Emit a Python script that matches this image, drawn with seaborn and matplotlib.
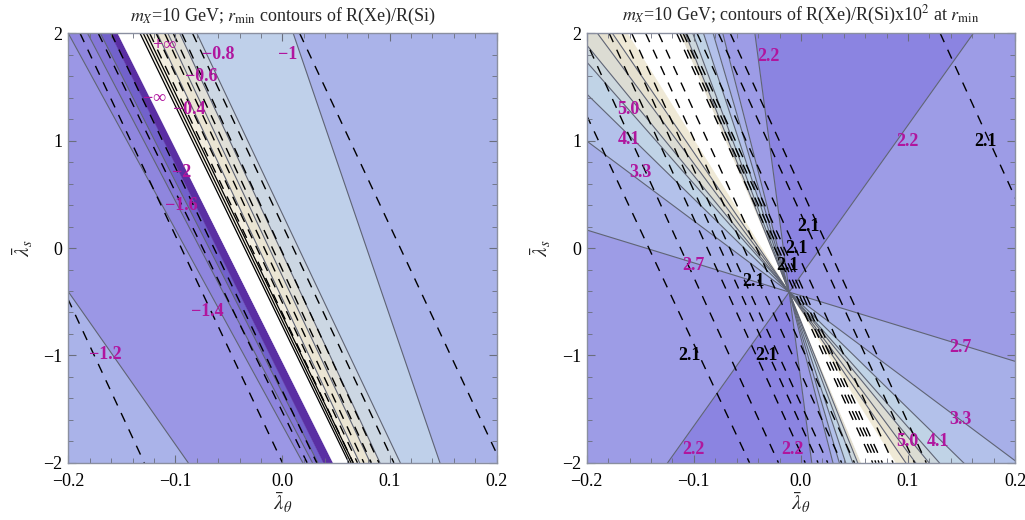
import numpy as np
import pandas as pd
import matplotlib
matplotlib.use("Agg")
import matplotlib.pyplot as plt
from matplotlib.ticker import MultipleLocator, FuncFormatter
import seaborn as sns

# ---------------------------------------------------------------
# left panel : r_min contours, straight lines given by their
# lambda_theta value at lambda_s = +2 (top) and lambda_s = -2 (bottom)
# ---------------------------------------------------------------
left_top = [-0.369, -0.200, -0.182, -0.170, -0.161, -0.154, -0.132, -0.117, -0.107, -0.096, -0.080, 0.010]
left_bot = [-0.088, 0.019, 0.028, 0.033, 0.038, 0.047, 0.063, 0.072, 0.082, 0.091, 0.110, 0.147]
left_gray = [1, 1, 1, 1, 0, 0, 0, 1, 1, 1, 1, 1]
left_fill = ["#aab3e9", "#9b97e5", "#8f86de", "#8577d8", "#7262cc", "#5a2fa3", "#ffffff",
             "#f3eee0", "#ebe5d3", "#e1e0d8", "#ccd7e3", "#bfd0ea", "#aab3e9"]
left_sing_top = [-0.133, -0.130, -0.127]
left_sing_bot = [0.062, 0.064, 0.066]
left_dash_top = [-0.316, -0.189, -0.172, -0.160, -0.124, -0.118, -0.110, -0.102, -0.094, -0.084, 0.016]
left_dash_bot = [-0.129, 0.000, 0.023, 0.032, 0.066, 0.070, 0.076, 0.083, 0.090, 0.104, 0.204]
left_labels = ["+∞", "−0.8", "−1", "−0.6", "−∞", "−0.4", "−2", "−1.6", "−1.4", "−1.2"]
left_lab_x = [-0.110, -0.060, 0.005, -0.076, -0.119, -0.087, -0.094, -0.094, -0.070, -0.165]
left_lab_y = [1.89, 1.80, 1.80, 1.60, 1.39, 1.29, 0.70, 0.40, -0.59, -0.99]

# ---------------------------------------------------------------
# right panel : contours of R(Xe)/R(Si) at r_min, lines through a common point
# ---------------------------------------------------------------
right_cx, right_cy = -0.011, -0.41
right_ray_x = [0.161, -0.043, -0.073, -0.082, -0.091, -0.101, -0.108, -0.113,
               -0.162, -0.176, -0.190, -0.200, -0.200, -0.200, -0.200, -0.200]
right_ray_y = [2.0, 2.0, 2.0, 2.0, 2.0, 2.0, 2.0, 2.0,
               2.0, 2.0, 2.0, 1.891, 1.733, 1.435, 0.997, 0.168]
right_gray = [1, 1, 1, 1, 1, 1, 1, 0, 0, 1, 1, 1, 1, 1, 1, 1]
right_fill = ["#8b84e1", "#9d9ce6", "#a7afe8", "#b3c1ea", "#c0d3e6", "#ccd7dd", "#e3dfd1", "#ffffff",
              "#efe9d6", "#e6e1d0", "#dcdcd3", "#ccd7dd", "#c0d3e6", "#b3c1ea", "#a7afe8", "#9d9ce6"]
right_dash_top = [-0.236, -0.204, -0.179, -0.167, -0.158, -0.145, -0.133, -0.116, -0.113,
                  -0.110, -0.107, -0.097, -0.077, -0.066, 0.130]
right_dash_bot = [-0.048, -0.021, 0.004, 0.016, 0.025, 0.038, 0.050, 0.067, 0.070,
                  0.073, 0.076, 0.086, 0.106, 0.117, 0.313]
right_mag = ["2.2", "2.2", "5.0", "4.1", "3.3", "2.7", "2.7", "3.3", "5.0", "4.1", "2.2", "2.2"]
right_mag_x = [-0.030, 0.099, -0.161, -0.161, -0.150, -0.100, 0.149, 0.149, 0.099, 0.128, -0.100, -0.008]
right_mag_y = [1.78, 0.99, 1.29, 1.01, 0.70, -0.16, -0.93, -1.60, -1.80, -1.80, -1.88, -1.88]
right_blk_x = [0.007, 0.172, -0.004, -0.013, -0.044, -0.104, -0.032]
right_blk_y = [0.20, 0.99, 0.00, -0.16, -0.31, -1.00, -1.00]

MAG = "#b0169e"
GRAY = "#5f6474"

sns.set_theme(style="ticks")
plt.rcParams["font.family"] = ["Liberation Serif", "DejaVu Serif"]
plt.rcParams["mathtext.fontset"] = "stix"


def seg_frame(tops, bots):
    rows = []
    for i, (a, b) in enumerate(zip(tops, bots)):
        rows.append({"line": i, "x": a, "y": 2.0})
        rows.append({"line": i, "x": b, "y": -2.0})
    return pd.DataFrame(rows)


def style_axes(ax, title):
    ax.set_axisbelow(False)
    ax.set_xlim(-0.2, 0.2)
    ax.set_ylim(-2, 2)
    ax.xaxis.set_major_locator(MultipleLocator(0.1))
    ax.xaxis.set_minor_locator(MultipleLocator(0.02))
    ax.yaxis.set_major_locator(MultipleLocator(1))
    ax.yaxis.set_minor_locator(MultipleLocator(0.2))
    ax.xaxis.set_major_formatter(FuncFormatter(lambda v, p: f"{v:.1f}".replace("-", "−")))
    ax.yaxis.set_major_formatter(FuncFormatter(lambda v, p: f"{v:.0f}".replace("-", "−")))
    ax.tick_params(which="both", direction="in", top=True, right=True, color="#6a6e7c",
                   labelsize=13, labelcolor="black")
    ax.tick_params(which="major", length=6, width=0.8)
    ax.tick_params(axis="x", which="major", pad=7)
    ax.tick_params(axis="y", which="major", pad=4)
    ax.tick_params(which="minor", length=3.5, width=0.6)
    for s in ax.spines.values():
        s.set_color("#8a8fa0")
        s.set_linewidth(1.0)
        s.set_zorder(5)
    ax.set_xlabel(r"$\bar{\lambda}_\theta$", fontsize=15, labelpad=1)
    ax.set_ylabel(r"$\bar{\lambda}_s$", fontsize=15, labelpad=6)
    ax.set_title(title, fontsize=13, pad=9)


fig = plt.figure(figsize=(10.25, 5.2), dpi=100)
ax1 = fig.add_axes([0.0666, 0.110, 0.418, 0.826])
ax2 = fig.add_axes([0.5724, 0.110, 0.418, 0.826])

# ---- left panel fills between neighbouring lines
ext_top = [-1.0] + left_top + [1.0]
ext_bot = [-1.0] + left_bot + [1.0]
for i, col in enumerate(left_fill):
    ax1.fill_betweenx([-2, 2], [ext_bot[i], ext_top[i]], [ext_bot[i + 1], ext_top[i + 1]],
                      color=col, lw=0.3, ec=col)

g_left = seg_frame([t for t, g in zip(left_top, left_gray) if g],
                   [b for b, g in zip(left_bot, left_gray) if g])
sns.lineplot(data=g_left, x="x", y="y", units="line", estimator=None, sort=False,
             color=GRAY, lw=0.8, legend=False, ax=ax1)
sns.lineplot(data=seg_frame(left_sing_top, left_sing_bot), x="x", y="y", units="line",
             estimator=None, sort=False, color="black", lw=0.9, legend=False, ax=ax1)
sns.lineplot(data=seg_frame(left_dash_top, left_dash_bot), x="x", y="y", units="line",
             estimator=None, sort=False, color="black", lw=1.0, linestyle=(0, (7, 6)),
             legend=False, ax=ax1)
for t, x, y in zip(left_labels, left_lab_x, left_lab_y):
    ax1.text(x, y, t, color=MAG, fontsize=13, fontweight="bold", ha="center", va="center")

# ---- right panel wedges around the common point
k = 12.0
dx = [x - right_cx for x in right_ray_x]
dy = [y - right_cy for y in right_ray_y]
n = len(dx)
for i, col in enumerate(right_fill):
    ax, ay = dx[i], dy[i]
    if i + 1 < n:
        bx, by = dx[i + 1], dy[i + 1]
    else:
        bx, by = -dx[0], -dy[0]
    for sgn in (1, -1):
        px = [right_cx, right_cx + sgn * k * ax, right_cx + sgn * k * bx]
        py = [right_cy, right_cy + sgn * k * ay, right_cy + sgn * k * by]
        ax2.fill(px, py, color=col, lw=0.3, ec=col)

rows = []
for i in range(n):
    if right_gray[i]:
        rows.append({"line": i, "x": right_cx - k * dx[i], "y": right_cy - k * dy[i]})
        rows.append({"line": i, "x": right_cx + k * dx[i], "y": right_cy + k * dy[i]})
sns.lineplot(data=pd.DataFrame(rows), x="x", y="y", units="line", estimator=None, sort=False,
             color=GRAY, lw=0.8, legend=False, ax=ax2)
sns.lineplot(data=seg_frame(right_dash_top, right_dash_bot), x="x", y="y", units="line",
             estimator=None, sort=False, color="black", lw=1.0, linestyle=(0, (7, 6)),
             legend=False, ax=ax2)
for t, x, y in zip(right_mag, right_mag_x, right_mag_y):
    ax2.text(x, y, t, color=MAG, fontsize=13, fontweight="bold", ha="center", va="center")
for x, y in zip(right_blk_x, right_blk_y):
    ax2.text(x, y, "2.1", color="black", fontsize=13, fontweight="bold", ha="center", va="center")

style_axes(ax1, r"$m_X$=10 GeV; $r_{\rm min}$ contours of R(Xe)/R(Si)")
style_axes(ax2, r"$m_X$=10 GeV; contours of R(Xe)/R(Si)x10$^2$ at $r_{\rm min}$")

fig.savefig("out.png", dpi=100)
